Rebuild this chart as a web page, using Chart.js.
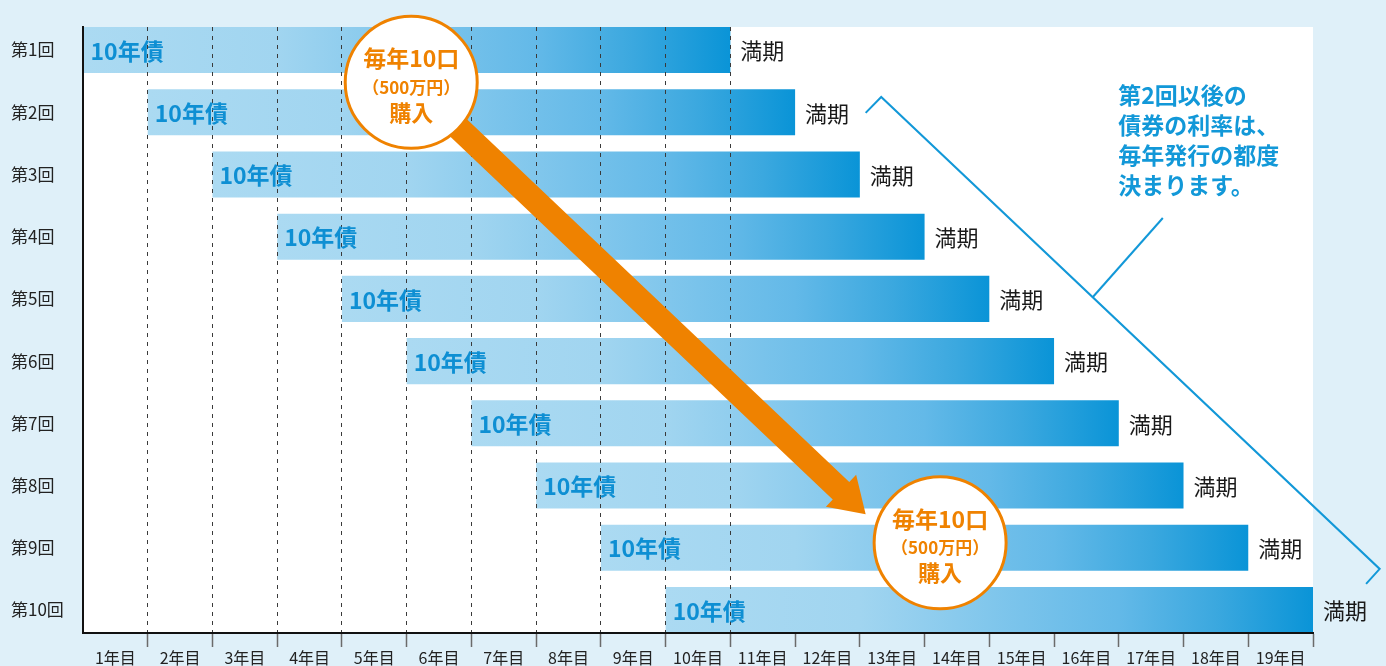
<!DOCTYPE html>
<html><head><meta charset="utf-8">
<script src="https://cdn.jsdelivr.net/npm/chart.js@4"></script>
<style>
html,body{margin:0;padding:0;background:#dff0f9;overflow:hidden;}
#wrap{width:1386px;height:666px;position:relative;}
</style></head><body>
<div id="wrap"><canvas id="c" width="1386" height="666"></canvas></div>
<script>
// ---- data ----
const rounds = ['第1回','第2回','第3回','第4回','第5回','第6回','第7回','第8回','第9回','第10回'];
const startYear = [0,1,2,3,4,5,6,7,8,9];
const endYear = [10,11,12,13,14,15,16,17,18,19];
const yearLabels = ['1年目','2年目','3年目','4年目','5年目','6年目','7年目','8年目','9年目','10年目',
  '11年目','12年目','13年目','14年目','15年目','16年目','17年目','18年目','19年目'];
const bondLabel = '10年債';
const maturityLabel = '満期';
const purchaseText = ['毎年10口','（500万円）','購入'];
const noteText = ['第2回以後の','債券の利率は、','毎年発行の都度','決まります。'];

// ---- style ----
const FONT = '"Noto Sans CJK JP", "Noto Sans", sans-serif';
const BOND_BLUE = '#0e8fd3';
const ORANGE = '#ef8200';
const NOTE_BLUE = '#1298d8';

function barGradient(c) {
  const chart = c.chart;
  const raw = c.raw;
  if (!chart.chartArea || !raw) return '#7cc4ec';
  const xs = chart.scales.x;
  const x0 = xs.getPixelForValue(raw.x[0]), x1 = xs.getPixelForValue(raw.x[1]);
  const g = chart.ctx.createLinearGradient(x0, 0, x1, 0);
  g.addColorStop(0, '#abdaf2');
  g.addColorStop(0.3, '#a1d5f0');
  g.addColorStop(0.55, '#79c3eb');
  g.addColorStop(0.7, '#63b9e8');
  g.addColorStop(0.85, '#3ba8df');
  g.addColorStop(1, '#0a94d7');
  return g;
}

const decor = {
  id: 'decor',
  beforeDraw(chart) {
    const {ctx, chartArea: a} = chart;
    ctx.save();
    ctx.fillStyle = '#ffffff';
    ctx.fillRect(a.left, a.top, a.right - a.left, a.bottom - a.top);
    ctx.restore();
  },
  afterDraw(chart) {
    const {ctx} = chart;
    const xs = chart.scales.x, ys = chart.scales.y;
    const P = (x, y) => [xs.getPixelForValue(x), ys.getPixelForValue(y)];
    ctx.save();
    // bar texts
    const meta = chart.getDatasetMeta(0);
    meta.data.forEach((bar) => {
      const left = Math.min(bar.x, bar.base), right = Math.max(bar.x, bar.base);
      ctx.textBaseline = 'middle';
      ctx.textAlign = 'left';
      ctx.font = `bold 23px ${FONT}`;
      ctx.fillStyle = BOND_BLUE;
      ctx.fillText(bondLabel, left + 7, bar.y + 1);
      ctx.font = `22px ${FONT}`;
      ctx.fillStyle = '#1a1a1a';
      ctx.fillText(maturityLabel, right + 10, bar.y + 1);
    });

    // bracket and callout line
    ctx.strokeStyle = NOTE_BLUE;
    ctx.lineWidth = 2;
    ctx.lineJoin = 'miter';
    const br = [P(12.09, 2.01), P(12.33, 1.755), P(20.03, 9.34), P(19.82, 9.58)];
    ctx.beginPath();
    ctx.moveTo(br[0][0], br[0][1]);
    for (let i = 1; i < br.length; i++) ctx.lineTo(br[i][0], br[i][1]);
    ctx.stroke();
    const c0 = P(15.6, 4.97), c1 = P(16.68, 3.70);
    ctx.beginPath(); ctx.moveTo(c0[0], c0[1]); ctx.lineTo(c1[0], c1[1]); ctx.stroke();

    // note text
    ctx.fillStyle = NOTE_BLUE;
    ctx.font = `bold 23px ${FONT}`;
    ctx.textAlign = 'left';
    ctx.textBaseline = 'middle';
    const n0 = P(15.99, 1.72);
    noteText.forEach((t, i) => ctx.fillText(t, n0[0], n0[1] + i * 30.3));

    // arrow
    const S = P(5.07, 1.53), T = P(12.09, 8.46);
    const dx = T[0] - S[0], dy = T[1] - S[1], L = Math.hypot(dx, dy);
    const ux = dx / L, uy = dy / L, nx = -uy, ny = ux;
    const headLen = 34, shaft = 12, head = 22;
    const Bx = T[0] - ux * headLen, By = T[1] - uy * headLen;
    ctx.fillStyle = ORANGE;
    ctx.beginPath();
    ctx.moveTo(S[0] + nx * shaft, S[1] + ny * shaft);
    ctx.lineTo(Bx + nx * shaft, By + ny * shaft);
    ctx.lineTo(Bx + nx * head, By + ny * head);
    ctx.lineTo(T[0], T[1]);
    ctx.lineTo(Bx - nx * head, By - ny * head);
    ctx.lineTo(Bx - nx * shaft, By - ny * shaft);
    ctx.lineTo(S[0] - nx * shaft, S[1] - ny * shaft);
    ctx.closePath();
    ctx.fill();

    // circles
    const circles = [P(5.07, 1.52), P(13.24, 8.92)];
    circles.forEach((cc) => {
      ctx.beginPath();
      ctx.arc(cc[0], cc[1], 66, 0, Math.PI * 2);
      ctx.fillStyle = '#ffffff';
      ctx.fill();
      ctx.lineWidth = 3;
      ctx.strokeStyle = ORANGE;
      ctx.stroke();
      ctx.fillStyle = ORANGE;
      ctx.textAlign = 'center';
      ctx.textBaseline = 'middle';
      ctx.font = `bold 23px ${FONT}`;
      ctx.fillText(purchaseText[0], cc[0], cc[1] - 24);
      ctx.font = `bold 17px ${FONT}`;
      ctx.fillText(purchaseText[1], cc[0], cc[1] + 5);
      ctx.font = `bold 22px ${FONT}`;
      ctx.fillText(purchaseText[2], cc[0], cc[1] + 30);
    });
    ctx.restore();
  }
};

const halfBar = 0.37;
new Chart(document.getElementById('c'), {
  type: 'bar',
  data: {
    datasets: [{
      data: rounds.map((r, i) => ({ y: i + 1, x: [startYear[i], endYear[i]] })),
      backgroundColor: barGradient,
      borderWidth: 0,
      categoryPercentage: 1,
      barPercentage: halfBar * 2
    }]
  },
  options: {
    indexAxis: 'y',
    responsive: false,
    animation: false,
    events: [],
    devicePixelRatio: 1,
    layout: { padding: { left: 11, top: 27, right: 73, bottom: 0 } },
    plugins: { legend: { display: false }, tooltip: { enabled: false } },
    scales: {
      x: {
        type: 'linear',
        position: 'bottom',
        offset: false,
        min: 0,
        max: yearLabels.length,
        afterFit: (s) => { s.height = 33; },
        ticks: {
          stepSize: 1,
          autoSkip: false,
          maxRotation: 0,
          minRotation: 0,
          padding: 1,
          labelOffset: -32.37,
          color: '#222',
          font: { family: FONT, size: 16 },
          callback: (v) => (v >= 1 && v <= yearLabels.length) ? yearLabels[v - 1] : ''
        },
        grid: {
          z: 1,
          offset: false,
          color: (c) => (c.tick && c.tick.value >= 1 && c.tick.value <= 10) ? '#3a3a3a' : 'rgba(0,0,0,0)',
          lineWidth: 1,
          drawTicks: true,
          tickLength: 14,
          tickWidth: 1.5,
          tickColor: (c) => (c.tick && c.tick.value >= 1) ? '#6b6b6b' : 'rgba(0,0,0,0)'
        },
        border: { display: true, color: '#111', width: 2, dash: [4, 5], z: 2 }
      },
      y: {
        type: 'linear',
        reverse: true,
        offset: false,
        min: 1 - halfBar,
        max: rounds.length + halfBar,
        afterFit: (s) => { s.width = 72; },
        afterBuildTicks: (s) => { s.ticks = rounds.map((_, i) => ({ value: i + 1 })); },
        ticks: {
          crossAlign: 'far',
          color: '#222',
          font: { family: FONT, size: 17 },
          callback: (v) => rounds[v - 1] ?? ''
        },
        grid: { display: false, drawTicks: false, offset: false },
        border: { display: true, color: '#111', width: 2, z: 2 }
      }
    }
  },
  plugins: [decor]
});
</script>
</body></html>
